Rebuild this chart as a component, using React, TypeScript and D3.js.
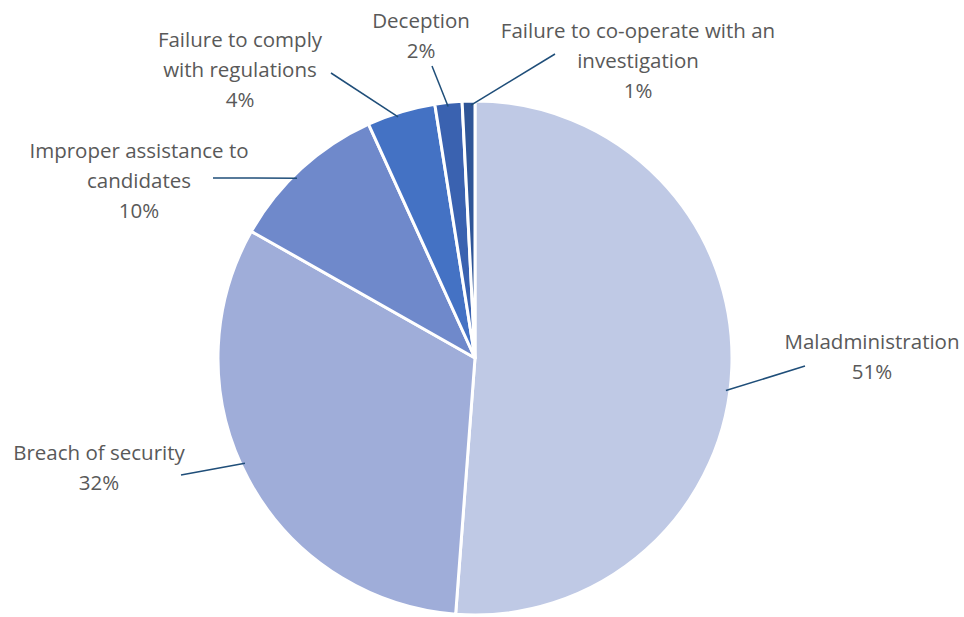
import React from "react";
import * as d3 from "d3";

const categories = [
  "Maladministration",
  "Breach of security",
  "Improper assistance to candidates",
  "Failure to comply with regulations",
  "Deception",
  "Failure to co-operate with an investigation",
];
const values = [51.2, 32.0, 10.0, 4.3, 1.7, 0.8];
const labelLines = [
  ["Maladministration"],
  ["Breach of security"],
  ["Improper assistance to", "candidates"],
  ["Failure to comply", "with regulations"],
  ["Deception"],
  ["Failure to co-operate with an", "investigation"],
];
const colors = ["#BFC9E5", "#9FADD9", "#6F89CB", "#4472C4", "#3A62B0", "#2F5597"];

// layout: label text centre x, first-line centre y, leader end point, leader anchor angle (deg)
const labelLayout = [
  { x: 872, y: 341, lx: 805, ly: 366, ang: 97.4 },
  { x: 99, y: 452, lx: 181, ly: 475, ang: 245.4 },
  { x: 139, y: 150, lx: 213, ly: 178, ang: 315.3 },
  { x: 240, y: 39, lx: 331, ly: 73, ang: 342.3 },
  { x: 421, y: 20, lx: 432, ly: 66, ang: 353.9 },
  { x: 638, y: 30, lx: 555, ly: 54, ang: 359.1 },
];

const W = 964;
const H = 617;
const cx = 475;
const cy = 358;
const R = 257;
const lineH = 30;

export default function App() {
  const pie = d3.pie<number>().sort(null).value((d) => d);
  const arcs = pie(values);
  const arcGen = d3.arc<d3.PieArcDatum<number>>().innerRadius(0).outerRadius(R);
  const total = d3.sum(values);

  return (
    <svg
      width={W}
      height={H}
      style={{ position: "absolute", left: 0, top: 0 }}
      fontFamily="'Open Sans', 'Liberation Sans', sans-serif"
    >
      <rect width={W} height={H} fill="#fff" />
      <g transform={`translate(${cx},${cy})`}>
        {arcs.map((a, i) => (
          <path key={i} d={arcGen(a) || ""} fill={colors[i]} stroke="#fff" strokeWidth={3} strokeLinejoin="round" />
        ))}
      </g>
      {arcs.map((a, i) => {
        const L = labelLayout[i];
        const t = (L.ang * Math.PI) / 180;
        const ax = cx + Math.sin(t) * (R - 4);
        const ay = cy - Math.cos(t) * (R - 4);
        return (
          <line key={"l" + i} x1={ax} y1={ay} x2={L.lx} y2={L.ly} stroke="#1F4E79" strokeWidth={1.5} />
        );
      })}
      {arcs.map((a, i) => {
        const L = labelLayout[i];
        const lines = [...labelLines[i], `${Math.round((values[i] / total) * 100)}%`];
        return (
          <text key={"t" + i} fill="#595959" fontSize={20.5} textAnchor="middle">
            {lines.map((s, j) => (
              <tspan key={j} x={L.x} y={L.y + j * lineH} dominantBaseline="central">
                {s}
              </tspan>
            ))}
          </text>
        );
      })}
    </svg>
  );
}
